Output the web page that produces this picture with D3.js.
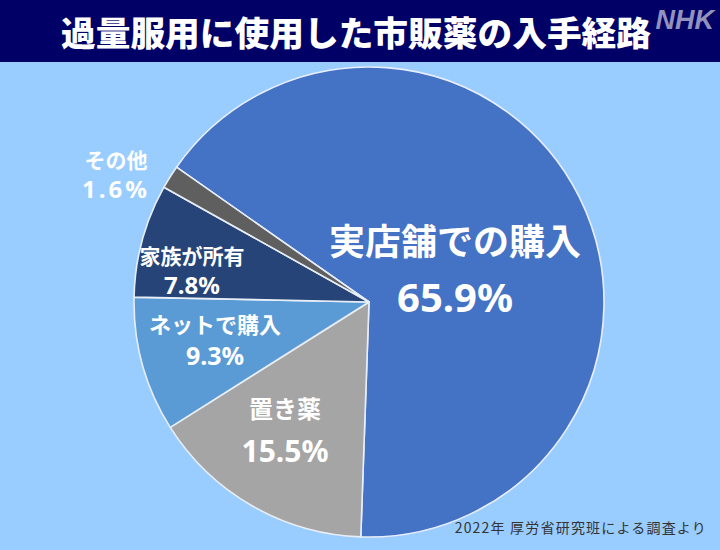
<!DOCTYPE html>
<html><head><meta charset="utf-8">
<script src="https://cdn.jsdelivr.net/npm/d3@7"></script>
<style>body{margin:0;background:#99ccff;}svg{display:block;font-family:"Noto Sans CJK JP","Noto Sans",sans-serif;}</style>
</head><body>
<svg id="c" width="720" height="550"></svg>
<script>
const categories = ["実店舗での購入","置き薬","ネットで購入","家族が所有","その他"];
const values = [65.9, 15.5, 9.3, 7.8, 1.6];
const valueLabels = ["65.9%","15.5%","9.3%","7.8%","1.6%"];
const colors = ["#4472c4","#a5a5a5","#5b9bd5","#264478","#5f5f5f"];

const svg = d3.select("#c");
svg.append("rect").attr("width",720).attr("height",550).attr("fill","#99ccff");
svg.append("rect").attr("width",720).attr("height",62).attr("fill","#000066");
svg.append("text").attr("x",356).attr("y",46).attr("text-anchor","middle")
  .attr("fill","#fff").attr("font-size",34).attr("font-weight",900)
  .attr("textLength",590).attr("lengthAdjust","spacingAndGlyphs")
  .text("過量服用に使用した市販薬の入手経路");
svg.append("text").attr("x",714).attr("y",29).attr("text-anchor","end")
  .attr("fill","#d0d0e0").attr("font-size",27).attr("font-weight",900)
  .attr("font-style","italic").attr("font-family","Liberation Sans, Arial, sans-serif")
  .attr("opacity",0.7).text("NHK");

const cx = 369, cy = 302, r = 235;
const pie = d3.pie().sort(null).value(d=>d)
  .startAngle(-55*Math.PI/180).endAngle(-55*Math.PI/180 + 2*Math.PI);
const arcs = pie(values);
const arc = d3.arc().innerRadius(0).outerRadius(r);
const g = svg.append("g").attr("transform",`translate(${cx},${cy})`);
g.selectAll("path").data(arcs).join("path")
  .attr("d",arc).attr("fill",(d,i)=>colors[i])
  .attr("stroke","#e8eef8").attr("stroke-width",1.6).attr("stroke-linejoin","round");

// labels
const lab = [
  {i:0, x:455, y1:255, s1:36, y2:312, s2:40, ls:0},
  {i:1, x:285, y1:418, s1:24, y2:462, s2:30, ls:0},
  {i:2, x:215, y1:333, s1:22, y2:365, s2:25, ls:0},
  {i:3, x:192, y1:264, s1:21, y2:294, s2:24, ls:0},
  {i:4, x:116, y1:168, s1:21, y2:198, s2:24, ls:3}
];
lab.forEach(l=>{
  svg.append("text").attr("x",l.x).attr("y",l.y1).attr("text-anchor","middle")
    .attr("fill","#fff").attr("font-size",l.s1).attr("font-weight",700).text(categories[l.i]);
  svg.append("text").attr("x",l.x).attr("y",l.y2).attr("text-anchor","middle")
    .attr("fill","#fff").attr("font-size",l.s2).attr("font-weight",700)
    .attr("letter-spacing",l.ls)
    .attr("font-family","Noto Sans, sans-serif").text(valueLabels[l.i]);
});

svg.append("text").attr("x",707).attr("y",533).attr("text-anchor","end")
  .attr("fill","#333").attr("font-size",14).attr("letter-spacing",1.2)
  .text("2022年 厚労省研究班による調査より");
</script>
</body></html>
